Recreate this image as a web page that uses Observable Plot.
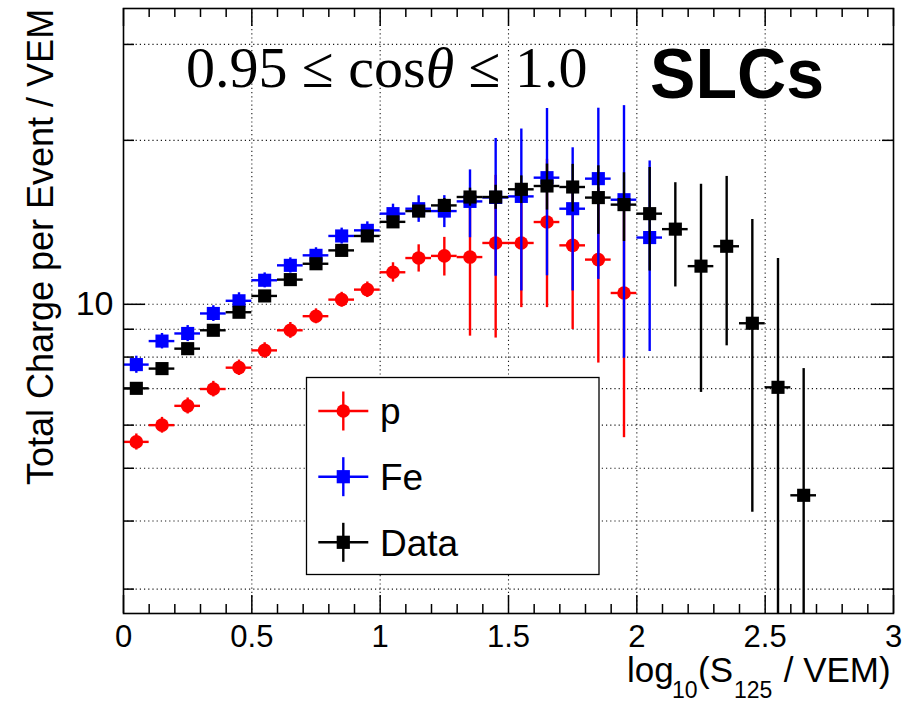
<!DOCTYPE html>
<html><head><meta charset="utf-8">
<script src="https://cdn.jsdelivr.net/npm/d3@7"></script>
<script src="https://cdn.jsdelivr.net/npm/@observablehq/plot@0.6"></script>
<style>html,body{margin:0;padding:0;background:#fff}svg{display:block}</style>
</head><body><div id="chart"></div>
<script>
// ---- data ----
const binCenters = [0.05,0.15,0.25,0.35,0.45,0.55,0.65,0.75,0.85,0.95,1.05,1.15,1.25,1.35,1.45,1.55,1.65,1.75,1.85,1.95,2.05,2.15,2.25,2.35,2.45,2.55,2.65];
const binHalfWidth = 0.05;

const pVal = [5.59,6.00,6.51,6.99,7.65,8.23,8.96,9.51,10.20,10.64,11.45,12.16,12.27,12.21,12.96,12.96,14.16,12.83,12.08,10.49];
const pErr = [0.19,0.20,0.22,0.23,0.25,0.27,0.30,0.30,0.32,0.35,0.47,0.70,1.00,3.47,4.29,3.10,4.30,3.84,4.28,4.80];

const feVal = [7.75,8.56,8.84,9.62,10.15,11.07,11.79,12.30,13.35,13.67,14.67,14.98,14.83,15.45,15.71,15.78,17.08,14.98,17.01,15.56,13.26];
const feErr = [0.28,0.28,0.30,0.32,0.35,0.35,0.38,0.40,0.45,0.50,0.60,0.84,1.00,2.20,4.45,5.20,5.80,4.40,5.90,7.60,5.07];

const dataVal = [7.01,7.62,8.29,8.96,9.67,10.36,11.10,11.87,12.56,13.35,14.17,14.83,15.19,15.74,15.74,16.26,16.49,16.42,15.70,15.24,14.67,13.74,11.75,12.78,9.23,7.04,4.46];
const dataErr = [0.05,0.06,0.07,0.08,0.10,0.12,0.14,0.16,0.20,0.25,0.30,0.35,0.45,0.60,0.80,0.95,1.60,1.65,2.26,2.20,3.16,2.98,4.86,4.39,5.08,5.10,3.16];

const seriesNames = ["p","Fe","Data"];
const seriesColors = ["#ff0000","#0000ff","#000000"];
const seriesSymbols = ["circle","square","square"];

const xMajorTicks = [0,0.5,1,1.5,2,2.5,3];
const xTickLabels = ["0","0.5","1","1.5","2","2.5","3"];
const xMinorTicks = [0.1,0.2,0.3,0.4,0.6,0.7,0.8,0.9,1.1,1.2,1.3,1.4,1.6,1.7,1.8,1.9,2.1,2.2,2.3,2.4,2.6,2.7,2.8,2.9];
const xGridTicks = [0.5,1,1.5,2,2.5];
const yMajorTicks = [10];
const yTickLabels = ["10"];
const yMinorTicks = [3,4,5,6,7,8,9,20,30];
const yGridTicks = [3,4,5,6,7,8,9,10,20,30];

const xDomain = [0,3];
const yDomain = [2.706,34.92];

const titleText = ["0.95 ≤ cos", "θ", " ≤ 1.0"];
const tagText = "SLCs";
const yLabel = "Total Charge per Event / VEM";
const xLabelParts = [["log",false],["10",true],["(S",false],["125",true],[" / VEM)",false]];

// ---- build rows ----
const allVals = [pVal, feVal, dataVal];
const allErrs = [pErr, feErr, dataErr];
const rows = [];
allVals.forEach((vals, s) => {
  vals.forEach((v, i) => rows.push({series: seriesNames[s], s, x: binCenters[i], v, e: allErrs[s][i]}));
});

// ---- layout ----
const W = 908, H = 703, mL = 123, mR = 15, mT = 8, mB = 90;
const pw = W - mL - mR, ph = H - mT - mB;
const SANS = "'Liberation Sans', Arial, Helvetica, sans-serif";
const SERIF = "'Liberation Serif', 'Times New Roman', serif";

const seriesMarks = [];
seriesNames.forEach((name, s) => {
  const d = rows.filter(r => r.s === s);
  const col = seriesColors[s];
  seriesMarks.push(
    Plot.ruleY(d, {y: "v", x1: r => r.x - binHalfWidth, x2: r => r.x + binHalfWidth, stroke: col, strokeWidth: 2.4}),
    Plot.ruleX(d, {x: "x", y1: r => Math.max(r.v - r.e, 1), y2: r => r.v + r.e, stroke: col, strokeWidth: 2.4}),
    Plot.dot(d, {x: "x", y: "v", symbol: seriesSymbols[s], r: seriesSymbols[s] === "circle" ? 6.8 : 7.4, fill: col, stroke: "none"})
  );
});

const chart = Plot.plot({
  width: W, height: H,
  marginLeft: mL, marginRight: mR, marginTop: mT, marginBottom: mB,
  x: {domain: xDomain},
  y: {type: "log", domain: yDomain, clamp: true},
  style: {fontFamily: SANS, background: "#fff", color: "#000"},
  marks: [
    Plot.gridX(xGridTicks, {stroke: "#000", strokeOpacity: 0.9, strokeWidth: 1.1, strokeDasharray: "1.2,3"}),
    Plot.gridY(yGridTicks, {stroke: "#000", strokeOpacity: 0.9, strokeWidth: 1.1, strokeDasharray: "1.2,3"}),
    ...seriesMarks,
    Plot.tickX(xMajorTicks, {x: d => d, insetTop: ph - 18, stroke: "#000", strokeWidth: 1.5}),
    Plot.tickX(xMinorTicks, {x: d => d, insetTop: ph - 9, stroke: "#000", strokeWidth: 1.5}),
    Plot.tickX(xMajorTicks, {x: d => d, insetBottom: ph - 18, stroke: "#000", strokeWidth: 1.5}),
    Plot.tickX(xMinorTicks, {x: d => d, insetBottom: ph - 9, stroke: "#000", strokeWidth: 1.5}),
    Plot.tickY(yMajorTicks, {y: d => d, insetRight: pw - 22, stroke: "#000", strokeWidth: 1.5}),
    Plot.tickY(yMinorTicks, {y: d => d, insetRight: pw - 11, stroke: "#000", strokeWidth: 1.5}),
    Plot.tickY(yMajorTicks, {y: d => d, insetLeft: pw - 22, stroke: "#000", strokeWidth: 1.5}),
    Plot.tickY(yMinorTicks, {y: d => d, insetLeft: pw - 11, stroke: "#000", strokeWidth: 1.5}),
    Plot.axisX(xMajorTicks, {tickSize: 0, tickPadding: 11, fontSize: 31, label: null,
      tickFormat: d => xTickLabels[xMajorTicks.indexOf(d)]}),
    Plot.axisY(yMajorTicks, {tickSize: 0, tickPadding: 10, fontSize: 34, label: null,
      tickFormat: d => yTickLabels[yMajorTicks.indexOf(d)]}),
    Plot.frame({stroke: "#000", strokeWidth: 1.6})
  ]
});
document.getElementById("chart").appendChild(chart);

// ---- annotations ----
const svg = d3.select(chart);

const t = svg.append("text").attr("x", 186).attr("y", 87).attr("text-anchor", "start")
  .attr("font-family", SERIF).attr("font-size", 58).attr("fill", "#000");
t.append("tspan").text(titleText[0]);
t.append("tspan").attr("font-style", "italic").text(titleText[1]);
t.append("tspan").text(titleText[2]);

svg.append("text").attr("x", 650).attr("y", 98).attr("text-anchor", "start")
  .attr("font-family", SANS).attr("font-weight", "bold").attr("font-size", 70)
  .attr("textLength", 174).attr("lengthAdjust", "spacingAndGlyphs")
  .attr("fill", "#000").text(tagText);

svg.append("text").attr("transform", "translate(53,247) rotate(-90)")
  .attr("text-anchor", "middle").attr("font-family", SANS).attr("font-size", 36)
  .attr("fill", "#000").text(yLabel);

const xl = svg.append("text").attr("font-family", SANS).attr("fill", "#000").attr("text-anchor", "start");
const xPos = [627, 672, 698, 734, 774];
xLabelParts.forEach(([str, sub], i) => {
  xl.append("tspan").attr("x", xPos[i]).attr("y", sub ? 698 : 682)
    .attr("font-size", sub ? 23 : 35).style("white-space", "pre").text(str);
});

const lg = svg.append("g");
lg.append("rect").attr("x", 306.5).attr("y", 377.5).attr("width", 292.5).attr("height", 197)
  .attr("fill", "#fff").attr("stroke", "#000").attr("stroke-width", 1.3);
const legendY = [411, 476.7, 542.3];
seriesNames.forEach((name, s) => {
  const cy = legendY[s], cx = 343.3, col = seriesColors[s];
  lg.append("line").attr("x1", 318.3).attr("x2", 368.3).attr("y1", cy).attr("y2", cy)
    .attr("stroke", col).attr("stroke-width", 2.4);
  lg.append("line").attr("x1", cx).attr("x2", cx).attr("y1", cy - 19.5).attr("y2", cy + 19.5)
    .attr("stroke", col).attr("stroke-width", 2.4);
  if (seriesSymbols[s] === "circle") {
    lg.append("circle").attr("cx", cx).attr("cy", cy).attr("r", 6.8).attr("fill", col);
  } else {
    lg.append("rect").attr("x", cx - 6.6).attr("y", cy - 6.6).attr("width", 13.2).attr("height", 13.2).attr("fill", col);
  }
  lg.append("text").attr("x", 380).attr("y", cy + 13.2).attr("text-anchor", "start").attr("font-family", SANS)
    .attr("font-size", 37).attr("fill", "#000").text(name);
});
</script>
</body></html>
